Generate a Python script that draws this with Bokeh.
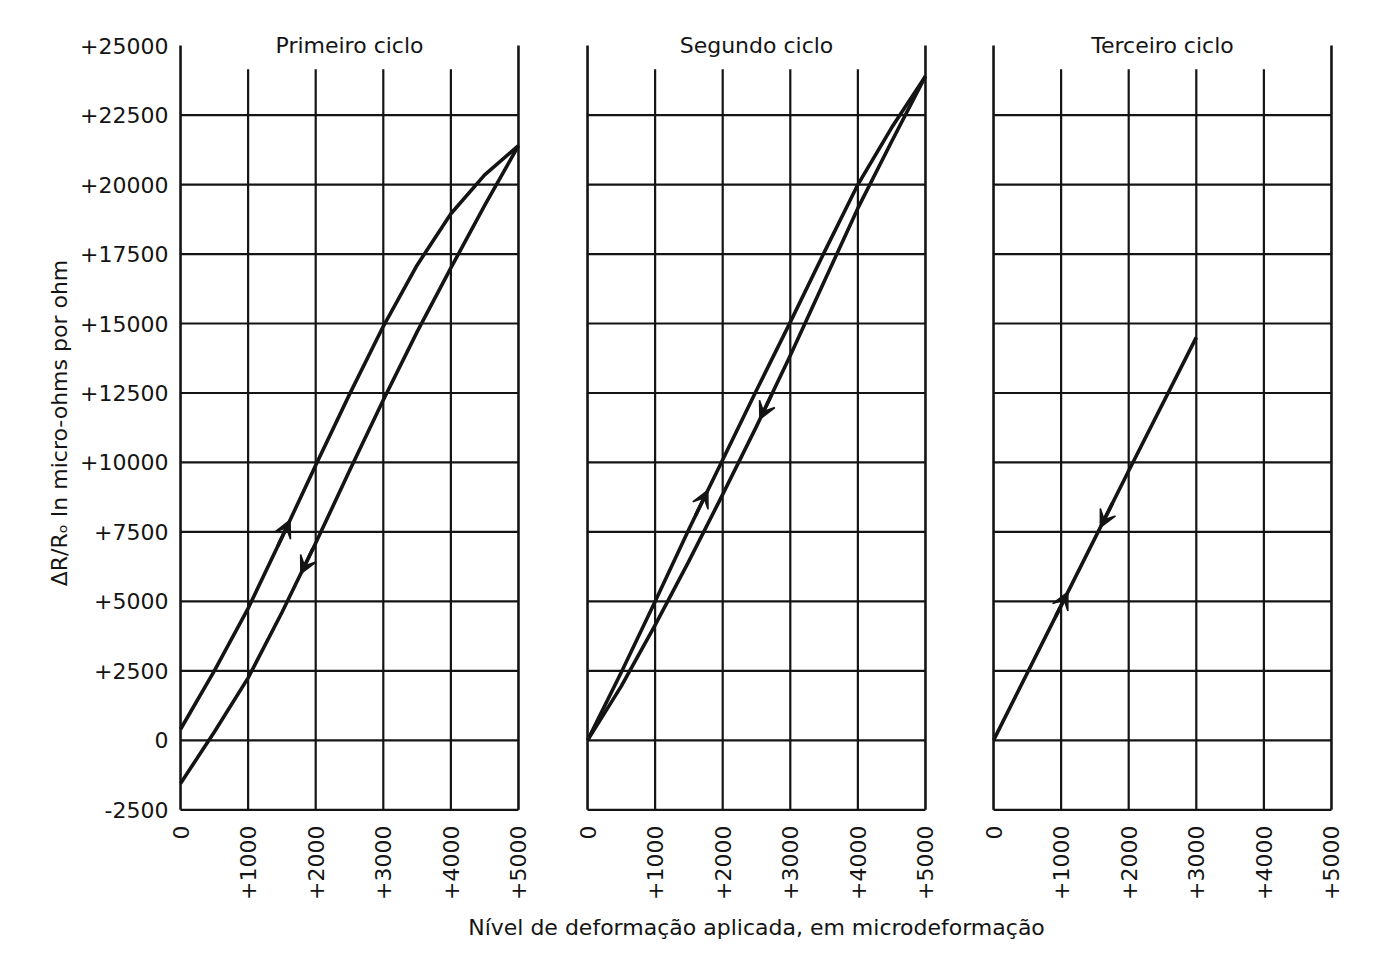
import numpy as np
from bokeh.plotting import figure
from bokeh.layouts import row, column
from bokeh.models import Range1d, FixedTicker, Label, Arrow, VeeHead
from bokeh.embed import file_html
from bokeh.resources import INLINE

# ---------------- data ----------------
strain = [0, 500, 1000, 1500, 2000, 2500, 3000, 3500, 4000, 4500, 5000]

# first cycle
c1_load = [400, 2500, 4750, 7300, 9900, 12450, 14900, 17100, 18950, 20350, 21400]
c1_unload = [-1550, 300, 2250, 4600, 7100, 9700, 12250, 14700, 17000, 19250, 21400]

# second cycle
c2_load = [0, 2450, 5000, 7600, 10100, 12600, 15050, 17550, 20000, 22050, 23900]
c2_unload = [0, 1950, 4150, 6450, 8850, 11300, 13850, 16500, 19150, 21550, 23900]

# third cycle
c3_strain = [0, 1000, 2000, 3000]
c3_vals = [0, 4850, 9700, 14500]

panel_titles = ["Primeiro ciclo", "Segundo ciclo", "Terceiro ciclo"]

x_ticks = [0, 1000, 2000, 3000, 4000, 5000]
x_labels = ["0", "+1000", "+2000", "+3000", "+4000", "+5000"]
y_ticks = [-2500, 0, 2500, 5000, 7500, 10000, 12500, 15000, 17500, 20000, 22500, 25000]
y_labels = ["-2500", "0", "+2500", "+5000", "+7500", "+10000", "+12500",
            "+15000", "+17500", "+20000", "+22500", "+25000"]

# arrow positions (strain) on loading (up) and unloading (down) branches
arrow_up_x = [1620, 1780, 1100]
arrow_down_x = [1780, 2550, 1580]

x_label = "Nível de deformação aplicada, em microdeformação"
y_label = "ΔR/Rₒ In micro-ohms por ohm"

# ---------------- style ----------------
FONT = "DejaVu Sans"
INK = "#141414"
X_MIN, X_MAX = -30, 5030
Y_MIN, Y_MAX = -2560, 25400
INNER_TOP = 24150
TOP = 34
BOTTOM = 95


def make_panel(idx, border_left, border_right, show_y):
    p = figure(frame_width=342, frame_height=777,
               x_range=Range1d(X_MIN, X_MAX), y_range=Range1d(Y_MIN, Y_MAX),
               toolbar_location=None, output_backend="svg",
               min_border_left=border_left, min_border_right=border_right,
               min_border_top=TOP, min_border_bottom=BOTTOM)
    p.outline_line_color = None
    p.grid.visible = False
    p.background_fill_color = "white"
    p.border_fill_color = "white"

    xa = p.xaxis[0]
    xa.ticker = FixedTicker(ticks=x_ticks)
    xa.major_label_overrides = {t: l for t, l in zip(x_ticks, x_labels)}
    xa.major_label_orientation = np.pi / 2
    xa.major_label_standoff = 8
    xa.major_label_text_font = FONT
    xa.major_label_text_font_size = "22px"
    xa.major_label_text_color = INK
    xa.axis_line_color = None
    xa.major_tick_line_color = None
    xa.minor_tick_line_color = None

    ya = p.yaxis[0]
    if show_y:
        ya.ticker = FixedTicker(ticks=y_ticks)
        ya.major_label_overrides = {t: l for t, l in zip(y_ticks, y_labels)}
        ya.major_label_standoff = 4
        ya.major_label_text_font = FONT
        ya.major_label_text_font_size = "22px"
        ya.major_label_text_color = INK
        ya.axis_line_color = None
        ya.major_tick_line_color = None
        ya.minor_tick_line_color = None
        ya.axis_label = y_label
        ya.axis_label_text_font = FONT
        ya.axis_label_text_font_size = "22px"
        ya.axis_label_text_font_style = "normal"
        ya.axis_label_text_color = INK
        ya.axis_label_standoff = 5
    else:
        ya.visible = False

    # horizontal grid lines (from -2500 up to 22500)
    h_levels = [t for t in y_ticks if t < y_ticks[-1]]
    p.segment(x0=[x_ticks[0]] * len(h_levels), y0=h_levels,
              x1=[x_ticks[-1]] * len(h_levels), y1=h_levels,
              line_color=INK, line_width=2.2)
    # inner vertical grid lines (stop below the title)
    inner = x_ticks[1:-1]
    p.segment(x0=inner, y0=[y_ticks[0]] * len(inner), x1=inner,
              y1=[INNER_TOP] * len(inner), line_color=INK, line_width=2.2)
    # outer borders up to +25000
    outer = [x_ticks[0], x_ticks[-1]]
    p.segment(x0=outer, y0=[y_ticks[0]] * 2, x1=outer, y1=[y_ticks[-1]] * 2,
              line_color=INK, line_width=2.6)

    p.add_layout(Label(x=2500, y=y_ticks[-1], text=panel_titles[idx],
                       text_align="center", text_baseline="middle",
                       text_font=FONT, text_font_size="22px", text_color=INK))
    return p


def add_arrow(p, xs, ys, x_at, up):
    d = 180
    if up:
        xa, xb = x_at - d, x_at
    else:
        xa, xb = x_at + d, x_at
    ya_, yb_ = np.interp([xa, xb], xs, ys)
    p.add_layout(Arrow(x_start=xa, y_start=ya_, x_end=xb, y_end=yb_,
                       line_color=INK, line_width=3.5,
                       end=VeeHead(size=17, fill_color=INK, line_color=INK,
                                   line_width=1.5)))


CURVE_W = 3.6

p1 = make_panel(0, 178, 32, True)
p1.line(strain, c1_load, line_color=INK, line_width=CURVE_W, line_join="round")
p1.line(strain, c1_unload, line_color=INK, line_width=CURVE_W, line_join="round")
add_arrow(p1, strain, c1_load, arrow_up_x[0], True)
add_arrow(p1, strain, c1_unload, arrow_down_x[0], False)

p2 = make_panel(1, 33, 32, False)
p2.line(strain, c2_load, line_color=INK, line_width=CURVE_W, line_join="round")
p2.line(strain, c2_unload, line_color=INK, line_width=CURVE_W, line_join="round")
add_arrow(p2, strain, c2_load, arrow_up_x[1], True)
add_arrow(p2, strain, c2_unload, arrow_down_x[1], False)

p3 = make_panel(2, 32, 30, False)
p3.line(c3_strain, c3_vals, line_color=INK, line_width=CURVE_W)
add_arrow(p3, c3_strain, c3_vals, arrow_up_x[2], True)
add_arrow(p3, c3_strain, c3_vals, arrow_down_x[2], False)

# shared x-axis title in its own strip below the three panels
TOTAL_W = (178 + 342 + 32) + (33 + 342 + 32) + (32 + 342 + 30)
lab = figure(frame_width=TOTAL_W, frame_height=40,
             x_range=Range1d(0, TOTAL_W), y_range=Range1d(0, 40),
             toolbar_location=None, output_backend="svg",
             min_border=0)
lab.axis.visible = False
lab.grid.visible = False
lab.outline_line_color = None
lab.add_layout(Label(x=178 + 342 + 32 + 33 + 171, y=19, text=x_label,
                     text_align="center", text_baseline="middle",
                     text_font=FONT, text_font_size="22px", text_color=INK))

layout = column(row(p1, p2, p3, spacing=0), lab, spacing=0)

open("out.html", "w").write(file_html(layout, INLINE))
